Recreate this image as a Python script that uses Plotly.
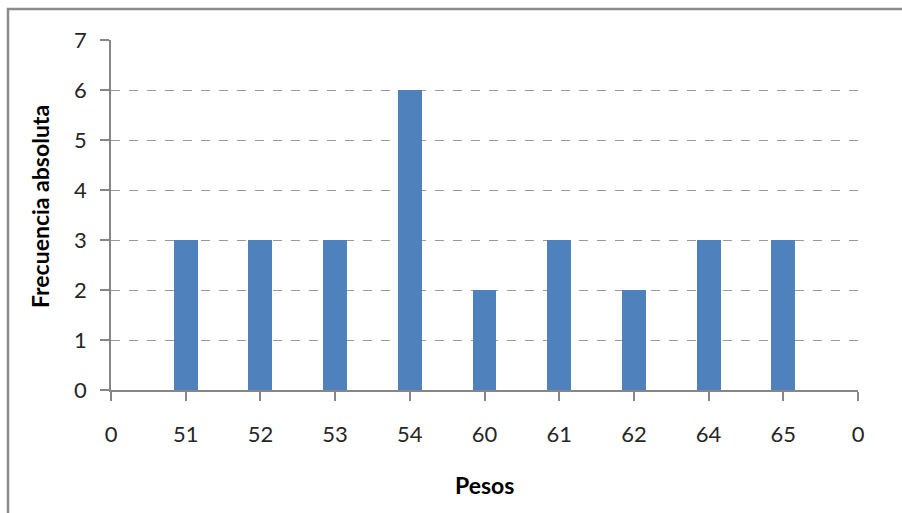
import plotly.graph_objects as go

# Weight classes (first and last are empty placeholder categories)
pesos = ["0", "51", "52", "53", "54", "60", "61", "62", "64", "65", "0"]
frecuencia = [0, 3, 3, 3, 6, 2, 3, 2, 3, 3, 0]
y_ticks = [0, 1, 2, 3, 4, 5, 6, 7]

positions = list(range(len(pesos)))
bar_color = "#4F81BD"
axis_color = "#868686"
text_color = "#262626"
font_family = "Lato, 'Open Sans', sans-serif"

fig = go.Figure(
    go.Bar(
        x=positions,
        y=frecuencia,
        width=0.32,
        marker=dict(color=bar_color, line=dict(width=0)),
        hoverinfo="x+y",
    )
)

fig.update_layout(
    width=902,
    height=513,
    margin=dict(l=111, r=44, t=40, b=123),
    paper_bgcolor="white",
    plot_bgcolor="white",
    showlegend=False,
    bargap=0,
    font=dict(family=font_family, size=18, color=text_color),
)

fig.update_xaxes(
    range=[0, len(pesos) - 1],
    tickmode="array",
    tickvals=positions,
    ticktext=pesos,
    showgrid=False,
    zeroline=False,
    showline=True,
    linecolor=axis_color,
    linewidth=1.5,
    ticks="outside",
    ticklen=9,
    tickcolor=axis_color,
    tickwidth=1.5,
    ticklabelstandoff=15,
    tickfont=dict(size=22, color=text_color),
)

fig.update_yaxes(
    range=[0, 7],
    tickmode="array",
    tickvals=y_ticks,
    ticktext=[str(v) for v in y_ticks],
    showgrid=True,
    gridcolor="#999999",
    griddash="dash",
    gridwidth=1,
    zeroline=False,
    showline=True,
    linecolor=axis_color,
    linewidth=1.5,
    ticks="outside",
    ticklen=9,
    tickcolor=axis_color,
    tickwidth=1.5,
    ticklabelstandoff=9,
    tickfont=dict(size=22, color=text_color),
)

# Axis titles
fig.add_annotation(
    text="<b>Pesos</b>", xref="paper", yref="paper",
    x=(484 - 111) / 747, y=-(485 - 390) / 350, xanchor="center", yanchor="middle",
    showarrow=False, font=dict(size=23, color="#000000"),
)
fig.add_annotation(
    text="<b>Frecuencia absoluta</b>", xref="paper", yref="paper",
    x=-(111 - 40) / 747, y=(390 - 207) / 350, xanchor="center", yanchor="middle",
    textangle=-90, showarrow=False, font=dict(size=23, color="#000000"),
)

# Chart frame
fig.add_shape(
    type="rect", xref="paper", yref="paper",
    x0=-103 / 747, x1=1.2, y0=-0.5, y1=1 + 31 / 350,
    line=dict(color="#8C8C8C", width=2.5), fillcolor="rgba(0,0,0,0)",
    layer="below",
)

fig.write_html("out.html")
